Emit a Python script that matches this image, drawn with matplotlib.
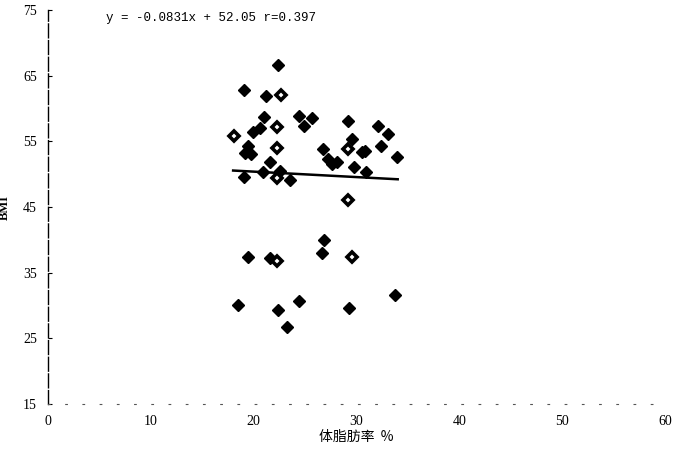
import matplotlib
matplotlib.use("Agg")
import numpy as np
from matplotlib import pyplot as plt

plt.rcParams['font.family'] = ['Liberation Serif', 'Noto Sans CJK SC', 'DejaVu Sans']

# filled points: body fat % , BMI
fat_pieni = [19.1, 19.1, 19.4, 19.2, 19.7, 19.9, 20.6, 21.0, 21.2, 21.6, 20.9,
             22.4, 22.6, 23.5, 24.4, 24.9, 25.7, 26.7, 27.2, 27.6, 28.1, 29.2,
             29.6, 29.8, 30.5, 30.8, 30.9, 32.1, 32.4, 33.1, 33.9,
             26.8, 19.4, 21.6, 26.6, 18.5, 22.4, 24.4, 23.2, 29.3, 33.7]
bmi_pieni = [62.8, 49.6, 54.3, 53.2, 53.1, 56.4, 57.0, 58.7, 61.9, 51.9, 50.3,
             66.6, 50.5, 49.1, 58.9, 57.3, 58.6, 53.8, 52.3, 51.5, 51.9, 58.1,
             55.4, 51.1, 53.4, 53.6, 50.3, 57.3, 54.3, 56.1, 52.6,
             40.0, 37.4, 37.2, 38.0, 30.1, 29.3, 30.7, 26.7, 29.6, 31.6]

# points drawn with a hollow centre
fat_vuoti = [18.1, 22.3, 22.3, 22.3, 22.7, 29.2, 29.2, 22.3, 29.6]
bmi_vuoti = [55.8, 57.2, 54.0, 49.4, 62.1, 53.8, 46.1, 36.8, 37.4]

# regression line
pendenza = -0.0831
intercetta = 52.05
r = 0.397
x_retta = [18.0, 34.0]

x_ticks = [0, 10, 20, 30, 40, 50, 60]
y_ticks = [15, 25, 35, 45, 55, 65, 75]

fig = plt.figure(figsize=(6.73, 4.53), dpi=100)
ax = fig.add_axes([0.0713, 0.108, 0.917, 0.870])

ax.plot(fat_pieni, bmi_pieni, 'D', color='black', markersize=6, linestyle='none')
ax.plot(fat_vuoti, bmi_vuoti, 'D', markerfacecolor='white', markeredgecolor='black',
        markeredgewidth=2.6, markersize=5.5, linestyle='none')

y_retta = [pendenza * x + intercetta for x in x_retta]
ax.plot(x_retta, y_retta, color='black', linewidth=1.8)

ax.text(5.6, 73.8, 'y = -0.0831x + 52.05 r=0.397', fontsize=9,
        family='Liberation Mono', va='center')

ax.set_xlim(0, 60)
ax.set_ylim(15, 75)
ax.set_xticks(x_ticks)
ax.set_yticks(y_ticks)
ax.tick_params(axis='both', labelsize=10, direction='in', length=3)
ax.tick_params(axis='x', pad=8, length=0)
ax.tick_params(axis='y', pad=8)

for lato in ['top', 'right']:
    ax.spines[lato].set_visible(False)
ax.spines['left'].set_linestyle((0, (10, 2)))
ax.spines['left'].set_linewidth(1.0)
ax.spines['bottom'].set_linestyle((0, (1.5, 14)))
ax.spines['bottom'].set_linewidth(0.8)
ax.spines['bottom'].set_color('#555555')

ax.set_xlabel('体脂肪率  %', fontsize=10, labelpad=1,
              family=['Noto Sans CJK SC', 'DejaVu Sans'])
ax.set_ylabel('BMI', fontsize=9, labelpad=9, fontweight='bold')

fig.savefig('out.png', dpi=100)
